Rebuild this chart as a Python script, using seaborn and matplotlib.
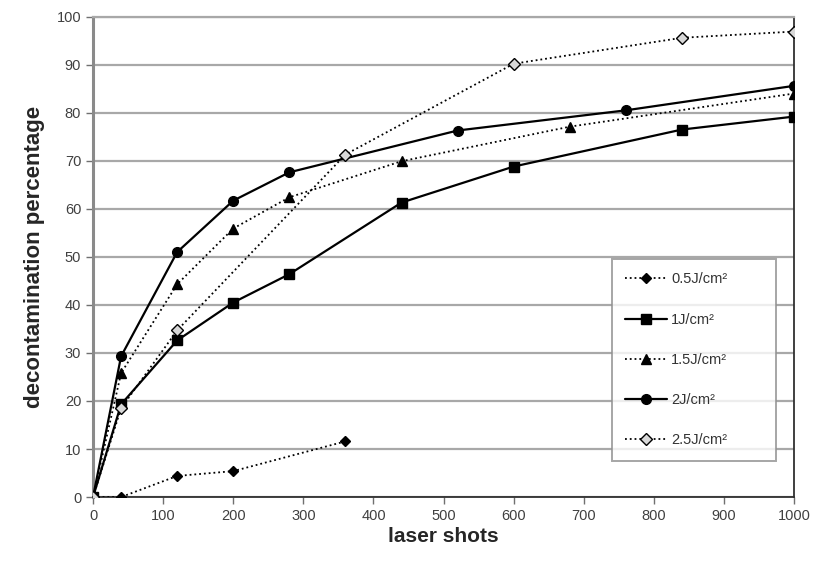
import pandas as pd
import seaborn as sns
import matplotlib.pyplot as plt

# values
x_05 = [0, 40, 120, 200, 360]
y_05 = [0, 0, 4.4, 5.4, 11.6]

x_1 = [0, 40, 120, 200, 280, 440, 600, 840, 1000]
y_1 = [0, 19.3, 32.6, 40.5, 46.4, 61.3, 68.8, 76.5, 79.2]

x_15 = [0, 40, 120, 200, 280, 440, 680, 1000]
y_15 = [0, 25.8, 44.3, 55.9, 62.4, 69.9, 77.1, 84.0]

x_2 = [0, 40, 120, 200, 280, 520, 760, 1000]
y_2 = [0, 29.3, 51.0, 61.7, 67.6, 76.3, 80.5, 85.6]

x_25 = [0, 40, 120, 360, 600, 840, 1000]
y_25 = [0, 18.5, 34.7, 71.3, 90.2, 95.6, 96.9]

labels = ['0.5J/cm²', '1J/cm²', '1.5J/cm²', '2J/cm²', '2.5J/cm²']
x_ticks = list(range(0, 1001, 100))
y_ticks = list(range(0, 101, 10))


def main():
    sns.set_style('white')
    plt.rcParams['font.family'] = ['Liberation Sans', 'DejaVu Sans']

    fig = plt.figure(figsize=(8.19, 5.74), dpi=100)
    ax = fig.add_axes([0.1136, 0.134, 0.856, 0.837])

    series = [
        (x_05, y_05, 'D', ':', 'black', 5.5),
        (x_1, y_1, 's', '-', 'black', 7),
        (x_15, y_15, '^', ':', 'black', 6.5),
        (x_2, y_2, 'o', '-', 'black', 7),
        (x_25, y_25, 'D', ':', '#d8d8d8', 6),
    ]
    for (xs, ys, mk, ls, fc, ms), lab in zip(series, labels):
        df = pd.DataFrame({'shots': xs, 'pct': ys})
        sns.lineplot(data=df, x='shots', y='pct', ax=ax, color='black',
                     marker=mk, markersize=ms, markerfacecolor=fc,
                     markeredgecolor='black', markeredgewidth=1,
                     linestyle=ls, linewidth=1.6 if ls == '-' else 1.3,
                     label=lab, zorder=3)

    ax.set_xlim(0, 1000)
    ax.set_ylim(0, 100)
    ax.set_xticks(x_ticks)
    ax.set_yticks(y_ticks)
    ax.yaxis.grid(True, color='#a8a8a8', linewidth=1.6)
    ax.set_axisbelow(True)

    ax.spines['left'].set_color('#8a8a8a')
    ax.spines['left'].set_linewidth(2.2)
    ax.spines['top'].set_color('#a8a8a8')
    ax.spines['top'].set_linewidth(1.6)
    ax.spines['right'].set_color('#303030')
    ax.spines['right'].set_linewidth(1.3)
    ax.spines['bottom'].set_color('#303030')
    ax.spines['bottom'].set_linewidth(1.3)

    ax.tick_params(axis='both', direction='out', length=5, width=1,
                   color='#707070', labelsize=10.5, labelcolor='#404040',
                   left=True, bottom=True)

    ax.set_xlabel('laser shots', fontsize=15, fontweight='bold', labelpad=3)
    ax.set_ylabel('decontamination percentage', fontsize=16,
                  fontweight='bold', labelpad=8)

    leg = ax.legend(loc='upper left', bbox_to_anchor=(0.74, 0.085, 0.234, 0.41),
                    mode='expand', fontsize=10.5, frameon=True, fancybox=False,
                    labelspacing=1.8, handlelength=2.9, handletextpad=0.25,
                    borderpad=0.9, borderaxespad=0)
    leg.get_frame().set_edgecolor('#909090')
    leg.get_frame().set_linewidth(1.4)
    for t in leg.get_texts():
        t.set_color('#333333')

    plt.savefig('out.png', dpi=100)


if __name__ == "__main__":
    main()
